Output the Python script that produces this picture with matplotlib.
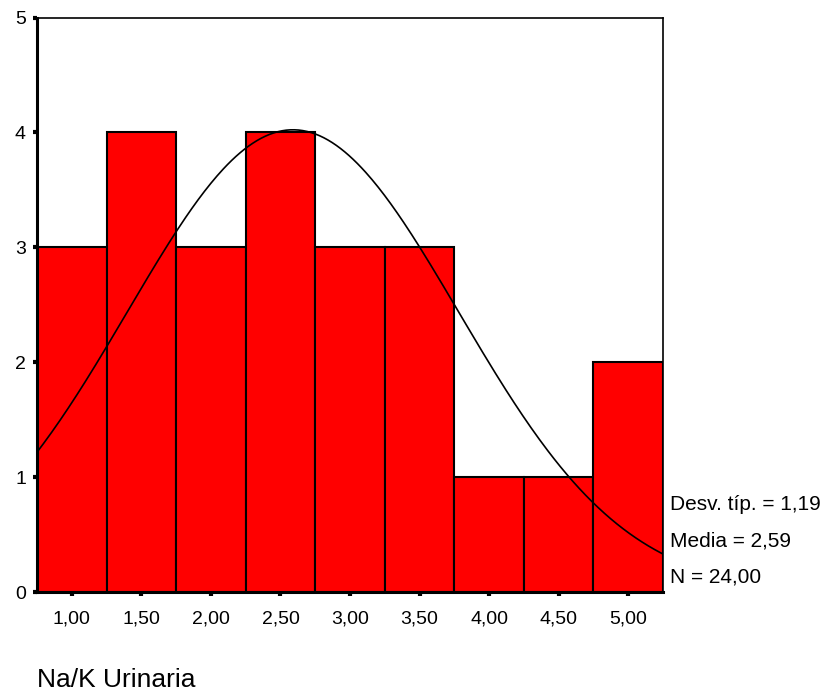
import numpy as np
import matplotlib.pyplot as plt

plt.rcParams['font.family'] = ['Liberation Sans', 'DejaVu Sans']

# histogram data (bin centres, counts)
bin_centers = [1.00, 1.50, 2.00, 2.50, 3.00, 3.50, 4.00, 4.50, 5.00]
counts = [3, 4, 3, 4, 3, 3, 1, 1, 2]
bin_width = 0.5
x_labels = ['1,00', '1,50', '2,00', '2,50', '3,00', '3,50', '4,00', '4,50', '5,00']

mean = 2.59
std = 1.19
n = 24

fig = plt.figure(figsize=(8.28, 6.93), dpi=100)
ax = fig.add_axes([0.0447, 0.1457, 0.756, 0.829])

ax.bar(bin_centers, counts, width=bin_width, color='#FF0000',
       edgecolor='black', linewidth=1.5, zorder=2)

# normal curve scaled to counts
xs = np.linspace(0.75, 5.25, 300)
ys = n * bin_width * np.exp(-0.5 * ((xs - mean) / std) ** 2) / (std * np.sqrt(2 * np.pi))
ax.plot(xs, ys, color='black', linewidth=1.2, zorder=3)

ax.set_xlim(0.75, 5.25)
ax.set_ylim(0, 5)
ax.set_xticks(bin_centers)
ax.set_xticklabels(x_labels)
ax.set_yticks(range(6))
ax.tick_params(axis='both', labelsize=14, length=3, width=3, direction='out')
ax.tick_params(axis='x', pad=10)
ax.tick_params(axis='y', pad=5)

for side in ['left', 'bottom']:
    ax.spines[side].set_linewidth(2.2)
for side in ['top', 'right']:
    ax.spines[side].set_linewidth(1.2)

fig.text(0.809, 0.272, 'Desv. típ. = 1,19', fontsize=15, va='center')
fig.text(0.809, 0.220, 'Media = 2,59', fontsize=15, va='center')
fig.text(0.809, 0.167, 'N = 24,00', fontsize=15, va='center')

fig.text(0.0447, 0.02, 'Na/K Urinaria', fontsize=19, va='center', transform=fig.transFigure)
fig.texts[-1].set_position((0.0447, 1 - 680 / 693))

fig.savefig('out.png', dpi=100)
plt.close(fig)
